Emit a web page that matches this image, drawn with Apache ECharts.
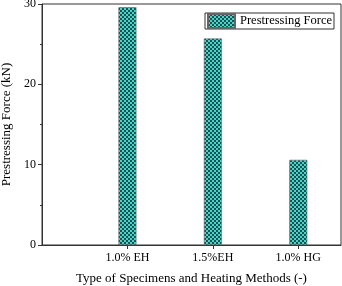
<!DOCTYPE html>
<html>
<head>
<meta charset="utf-8">
<script src="https://cdn.jsdelivr.net/npm/echarts@6/dist/echarts.min.js"></script>
<style>html,body{margin:0;padding:0;background:#fff}#c{width:342px;height:286px}</style>
</head>
<body>
<div id="c"></div>
<script>
const categories = ['1.0% EH', '1.5%EH', '1.0% HG'];
const positions = [1, 2, 3];
const prestressingForce = [29.6, 25.7, 10.6];
const yTicks = [0, 10, 20, 30];

function makePattern() {
  const cv = document.createElement('canvas');
  cv.width = 4; cv.height = 4;
  const g = cv.getContext('2d');
  g.fillStyle = '#23504e';
  g.fillRect(0, 0, 4, 4);
  g.fillStyle = '#40d8cc';
  g.fillRect(0, 0, 2, 2);
  g.fillRect(2, 2, 2, 2);
  return cv;
}
const pattern = { image: makePattern(), repeat: 'repeat' };

const font = 'Liberation Serif';
const chart = echarts.init(document.getElementById('c'), null, { renderer: 'canvas' });
chart.setOption({
  animation: false,
  grid: { left: 42, right: 1, top: 4, bottom: 41, show: true, borderColor: '#333', borderWidth: 1, outerBoundsMode: 'none', containLabel: false },
  legend: {
    top: 13, right: 8,
    itemWidth: 27, itemHeight: 14, itemGap: 2,
    padding: [0, 2, 0, 2],
    borderColor: '#333', borderWidth: 1,
    icon: 'rect',
    textStyle: { fontFamily: font, fontSize: 12.5, color: '#000', padding: [0, 0, 0, 0] },
    data: ['Prestressing Force']
  },
  xAxis: {
    type: 'value', min: 0, max: 3.5,
    name: 'Type of Specimens and Heating Methods (-)',
    nameLocation: 'middle', nameGap: 27,
    nameTextStyle: { fontFamily: font, fontSize: 13, color: '#000' },
    axisLine: { show: true, lineStyle: { color: '#333', width: 1 } },
    axisTick: { show: true, length: 4, customValues: positions, lineStyle: { color: '#333' } },
    axisLabel: {
      customValues: positions, margin: 7,
      fontFamily: font, fontSize: 12, color: '#000',
      formatter: v => categories[positions.indexOf(v)] || ''
    },
    splitLine: { show: false }
  },
  yAxis: {
    type: 'value', min: yTicks[0], max: yTicks[yTicks.length - 1], interval: 10,
    name: 'Prestressing Force (kN)',
    nameLocation: 'middle', nameGap: 29,
    nameTextStyle: { fontFamily: font, fontSize: 13, color: '#000' },
    axisLine: { show: true, lineStyle: { color: '#333', width: 1 } },
    axisTick: { show: true, length: 4, lineStyle: { color: '#333' } },
    minorTick: { show: true, splitNumber: 2, length: 2, lineStyle: { color: '#333' } },
    axisLabel: { margin: 6, fontFamily: font, fontSize: 12, color: '#000' },
    splitLine: { show: false }
  },
  series: [{
    name: 'Prestressing Force',
    type: 'bar',
    barWidth: 18,
    data: positions.map((p, i) => [p, prestressingForce[i]]),
    itemStyle: { color: pattern, borderColor: '#666', borderWidth: 0.6 }
  }]
});
</script>
</body>
</html>
